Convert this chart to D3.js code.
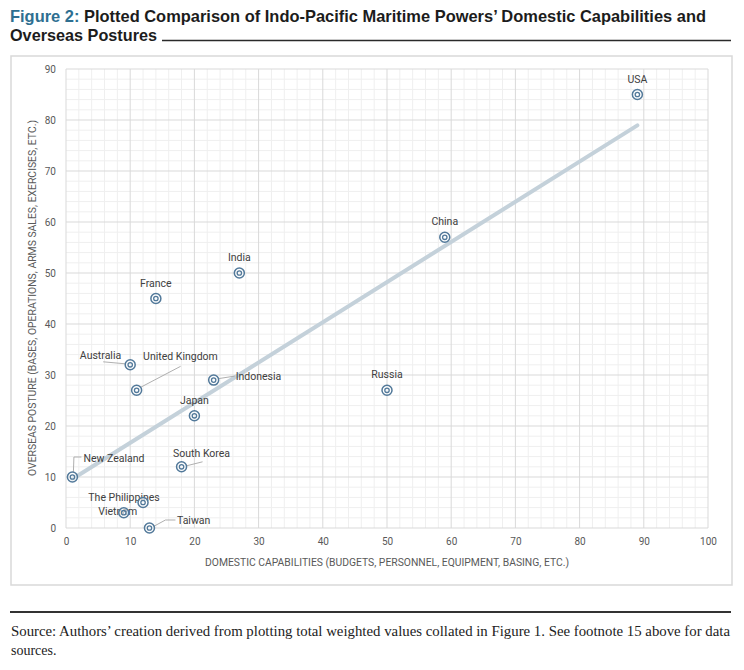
<!DOCTYPE html>
<html>
<head>
<meta charset="utf-8">
<script src="https://cdn.jsdelivr.net/npm/d3@7/dist/d3.min.js"></script>
<style>
  html, body { margin: 0; padding: 0; background: #fff; }
  svg { display: block; }
</style>
</head>
<body>
<svg id="chart" width="744" height="670"></svg>
<script>
// ---- Data ----
const countries = ["USA", "China", "India", "France", "Australia", "United Kingdom", "Indonesia", "Russia", "Japan", "South Korea", "New Zealand", "The Philippines", "Vietnam", "Taiwan"];
const domestic  = [89, 59, 27, 14, 10, 11, 23, 50, 20, 18, 1, 12, 9, 13];
const overseas  = [85, 57, 50, 45, 32, 27, 29, 27, 22, 12, 10, 5, 3, 0];
const xTicks = [0, 10, 20, 30, 40, 50, 60, 70, 80, 90, 100];
const yTicks = [0, 10, 20, 30, 40, 50, 60, 70, 80, 90];
const titleLead = "Figure 2:";
const titleRest1 = " Plotted Comparison of Indo-Pacific Maritime Powers\u2019 Domestic Capabilities and";
const titleLine2 = "Overseas Postures";
const xTitle = "DOMESTIC CAPABILITIES (BUDGETS, PERSONNEL, EQUIPMENT, BASING, ETC.)";
const yTitle = "OVERSEAS POSTURE (BASES, OPERATIONS, ARMS SALES, EXERCISES, ETC.)";
const source1 = "Source: Authors\u2019 creation derived from plotting total weighted values collated in Figure 1. See footnote 15 above for data";
const source2 = "sources.";

// ---- Label layout (pixel offsets from each point) ----
const labelLayout = {
  "USA":            {dx: 0,    dy: -12, anchor: "middle"},
  "China":          {dx: 0,    dy: -12, anchor: "middle"},
  "India":          {dx: 0,    dy: -12, anchor: "middle"},
  "France":         {dx: 0,    dy: -12, anchor: "middle"},
  "Russia":         {dx: 0,    dy: -12, anchor: "middle"},
  "Japan":          {dx: 0,    dy: -12, anchor: "middle"},
  "Australia":      {dx: -9,   dy: -6,  anchor: "end",    leader: [[-27, -3], [-5, -1]]},
  "United Kingdom": {dx: 6.5,  dy: -30, anchor: "start",  leader: [[44, -24], [4, -3]]},
  "Indonesia":      {dx: 22,   dy: 0,   anchor: "start",  leader: [[21, -4], [5, -1.5]]},
  "South Korea":    {dx: 20,   dy: -10, anchor: "middle", leader: [[21, -5], [5, -1]]},
  "New Zealand":    {dx: 11,   dy: -15, anchor: "start",  leader: [[9, -20], [1.5, -20], [1, -5]]},
  "The Philippines":{dx: -19,  dy: -2,  anchor: "middle"},
  "Vietnam":        {dx: -6,   dy: 2.5, anchor: "middle"},
  "Taiwan":         {dx: 27.5, dy: -4,  anchor: "start",  leader: [[26, -8], [16, -8], [4, -1.5]]}
};

const svg = d3.select("#chart");
svg.append("rect").attr("width", 744).attr("height", 670).attr("fill", "#fff");

// ---- Title ----
const titleFont = "'Liberation Sans Narrow', 'Liberation Sans', Arial, sans-serif";
const title1 = svg.append("text")
  .attr("x", 10).attr("y", 22)
  .attr("font-family", titleFont)
  .attr("font-weight", "bold").attr("font-size", 17)
  .attr("textLength", 696).attr("lengthAdjust", "spacingAndGlyphs");
title1.append("tspan").attr("fill", "#2e6f91").text(titleLead);
title1.append("tspan").attr("fill", "#1c1c1c").text(titleRest1);

svg.append("text")
  .attr("x", 10).attr("y", 41)
  .attr("font-family", titleFont)
  .attr("font-weight", "bold").attr("font-size", 17).attr("fill", "#1c1c1c")
  .attr("textLength", 147).attr("lengthAdjust", "spacingAndGlyphs")
  .text(titleLine2);
svg.append("line").attr("x1", 162).attr("x2", 731).attr("y1", 40.5).attr("y2", 40.5)
  .attr("stroke", "#2a2a2a").attr("stroke-width", 1.5);

// ---- Chart frame ----
svg.append("rect").attr("x", 11).attr("y", 56).attr("width", 721).attr("height", 529)
  .attr("fill", "none").attr("stroke", "#d9d9d9").attr("stroke-width", 1.5);

// ---- Scales ----
const x = d3.scaleLinear().domain([0, 100]).range([66, 708]);
const y = d3.scaleLinear().domain([0, 90]).range([528, 69]);

const g = svg.append("g");

// minor grid
const minorX = d3.range(0, 101, 2).filter(v => v % 10 !== 0);
const minorY = d3.range(0, 91, 2).filter(v => v % 10 !== 0);
g.selectAll(".mx").data(minorX).join("line")
  .attr("x1", d => x(d)).attr("x2", d => x(d)).attr("y1", y(0)).attr("y2", y(90))
  .attr("stroke", "#efefef").attr("stroke-width", 1);
g.selectAll(".my").data(minorY).join("line")
  .attr("y1", d => y(d)).attr("y2", d => y(d)).attr("x1", x(0)).attr("x2", x(100))
  .attr("stroke", "#efefef").attr("stroke-width", 1);
// major grid
g.selectAll(".Mx").data(xTicks).join("line")
  .attr("x1", d => x(d)).attr("x2", d => x(d)).attr("y1", y(0)).attr("y2", y(90))
  .attr("stroke", "#d9d9d9").attr("stroke-width", 1);
g.selectAll(".My").data(yTicks).join("line")
  .attr("y1", d => y(d)).attr("y2", d => y(d)).attr("x1", x(0)).attr("x2", x(100))
  .attr("stroke", "#d9d9d9").attr("stroke-width", 1);

// axes tick labels via d3 axes
const axisFont = "Roboto, 'Noto Sans', sans-serif";
const xAxis = svg.append("g").attr("transform", `translate(0,${y(0)})`)
  .call(d3.axisBottom(x).tickValues(xTicks).tickSize(0).tickPadding(10));
const yAxis = svg.append("g").attr("transform", `translate(${x(0)},0)`)
  .call(d3.axisLeft(y).tickValues(yTicks).tickSize(0).tickPadding(10));
[xAxis, yAxis].forEach(a => {
  a.select(".domain").remove();
  a.selectAll("text").attr("font-family", axisFont).attr("font-size", 10).attr("fill", "#595959");
});

// axis titles
svg.append("text")
  .attr("x", 387).attr("y", 566).attr("text-anchor", "middle")
  .attr("font-family", axisFont).attr("font-size", 10).attr("fill", "#595959")
  .attr("textLength", 364).attr("lengthAdjust", "spacingAndGlyphs")
  .text(xTitle);
svg.append("text")
  .attr("transform", "translate(36,298) rotate(-90)").attr("text-anchor", "middle")
  .attr("font-family", axisFont).attr("font-size", 10).attr("fill", "#595959")
  .attr("textLength", 356).attr("lengthAdjust", "spacingAndGlyphs")
  .text(yTitle);

// ---- Trendline (linear least squares fit) ----
const n = domestic.length;
const mx = d3.mean(domestic), my = d3.mean(overseas);
let sxy = 0, sxx = 0;
for (let i = 0; i < n; i++) { sxy += (domestic[i] - mx) * (overseas[i] - my); sxx += (domestic[i] - mx) ** 2; }
const slope = sxy / sxx, intercept = my - slope * mx;
const [xmin, xmax] = d3.extent(domestic);
svg.append("line")
  .attr("x1", x(xmin)).attr("y1", y(intercept + slope * xmin))
  .attr("x2", x(xmax)).attr("y2", y(intercept + slope * xmax))
  .attr("stroke", "#c4d1da").attr("stroke-width", 4).attr("stroke-linecap", "round");

// ---- Points ----
const pts = countries.map((c, i) => ({name: c, px: x(domestic[i]), py: y(overseas[i])}));
const markColor = "#52799a";

// leaders
svg.append("g").selectAll("polyline").data(pts.filter(d => labelLayout[d.name].leader)).join("polyline")
  .attr("points", d => labelLayout[d.name].leader.map(p => [d.px + p[0], d.py + p[1]].join(",")).join(" "))
  .attr("fill", "none").attr("stroke", "#a6a6a6").attr("stroke-width", 0.9);

// labels
svg.append("g").selectAll("text").data(pts).join("text")
  .attr("x", d => d.px + labelLayout[d.name].dx)
  .attr("y", d => d.py + labelLayout[d.name].dy)
  .attr("text-anchor", d => labelLayout[d.name].anchor)
  .attr("font-family", axisFont).attr("font-size", 10.5).attr("fill", "#404040")
  .text(d => d.name);

// markers
const mk = svg.append("g").selectAll("g").data(pts).join("g")
  .attr("transform", d => `translate(${d.px},${d.py})`);
mk.append("circle").attr("r", 5).attr("fill", "rgba(255,255,255,0.6)").attr("stroke", markColor).attr("stroke-width", 1.5);
mk.append("circle").attr("r", 2.2).attr("fill", "none").attr("stroke", markColor).attr("stroke-width", 1.3);

// ---- Source ----
const serif = "'Liberation Serif', 'DejaVu Serif', serif";
svg.append("line").attr("x1", 10).attr("x2", 731).attr("y1", 612).attr("y2", 612)
  .attr("stroke", "#333").attr("stroke-width", 2);
svg.append("text").attr("x", 11).attr("y", 636)
  .attr("font-family", serif).attr("font-size", 14).attr("fill", "#222")
  .attr("textLength", 719).attr("lengthAdjust", "spacingAndGlyphs")
  .text(source1);
svg.append("text").attr("x", 11).attr("y", 655)
  .attr("font-family", serif).attr("font-size", 14).attr("fill", "#222")
  .text(source2);
</script>
</body>
</html>
